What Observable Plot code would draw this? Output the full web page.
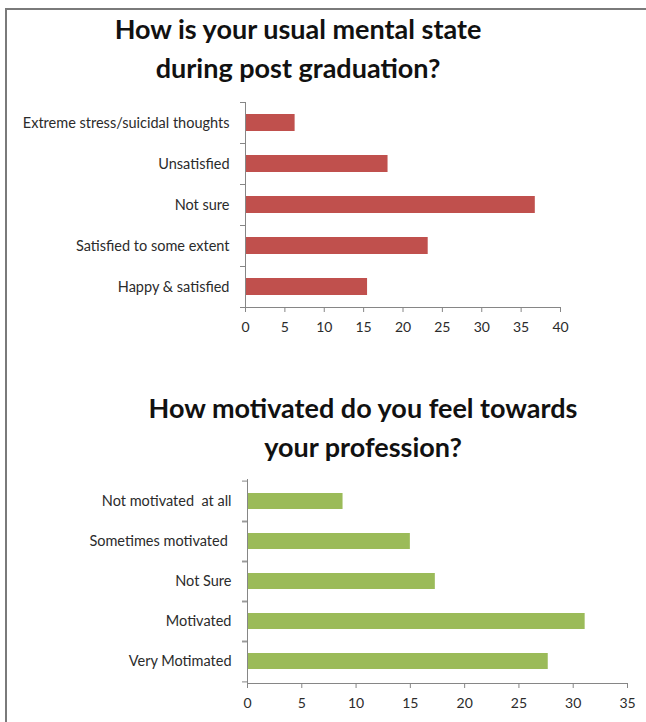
<!DOCTYPE html>
<html><head><meta charset="utf-8">
<script src="https://cdn.jsdelivr.net/npm/d3@7"></script>
<script src="https://cdn.jsdelivr.net/npm/@observablehq/plot@0.6"></script>
<style>
body{margin:0;background:#fff;}
#fig{position:relative;width:646px;height:722px;overflow:hidden;font-family:Lato,sans-serif;background:#fff;}
#border{position:absolute;left:5px;top:8px;right:-10px;bottom:-10px;border-top:2px solid #7a7a7a;border-left:2px solid #7a7a7a;}
.title{position:absolute;font-weight:bold;font-size:27px;color:#111;text-align:center;line-height:39px;white-space:nowrap;}
.chart{position:absolute;left:0;}
.chart svg text{white-space:pre;}
</style></head><body>
<div id="fig"><div id="border"></div>
<div class="title" id="t1" style="left:0;width:596px;top:9px;"></div>
<div class="title" id="t2" style="left:130px;width:466px;top:388px;"></div>
<div class="chart" id="c1" style="top:90px;"></div>
<div class="chart" id="c2" style="top:467px;"></div>
</div>
<script>
// ---- data ----
const title1 = ["How is your usual mental state", "during post graduation?"];
const mentalLabels = ["Extreme stress/suicidal thoughts", "Unsatisfied", "Not sure", "Satisfied to some extent", "Happy & satisfied"];
const mentalValues = [6.3, 18.1, 36.8, 23.2, 15.5];
const mentalTicks = [0, 5, 10, 15, 20, 25, 30, 35, 40];

const title2 = ["How motivated do you feel towards", "your profession?"];
const motivLabels = ["Not motivated  at all", "Sometimes motivated ", "Not Sure", "Motivated", "Very Motimated"];
const motivValues = [8.8, 15.0, 17.3, 31.1, 27.7];
const motivTicks = [0, 5, 10, 15, 20, 25, 30, 35];

document.getElementById("t1").innerHTML = title1.join("<br>");
document.getElementById("t2").innerHTML = title2.join("<br>");

const AXIS = "#868686", TEXT = "#2b2b2b";

function barChart({labels, values, ticks, color, marginLeft, marginRight, marginTop, marginBottom, height}) {
  const table = labels.map((label, i) => ({label, value: values[i]}));
  const width = 646;
  const xMax = ticks[ticks.length - 1];
  const k = (width - marginLeft - marginRight) / xMax;
  const step = (height - marginTop - marginBottom) / labels.length;
  const tl = 5 / k;
  return Plot.plot({
    width, height, marginLeft, marginRight, marginTop, marginBottom,
    style: {fontFamily: "Lato, sans-serif", fontSize: "14px", color: TEXT, background: "transparent"},
    x: {domain: [0, xMax], label: null},
    y: {domain: labels, paddingInner: 0.59, paddingOuter: 0.295, label: null},
    marks: [
      Plot.barX(table, {x: "value", y: "label", fill: color}),
      Plot.ruleX([0], {stroke: AXIS, strokeWidth: 1}),
      Plot.frame({anchor: "bottom", stroke: AXIS}),
      Plot.ruleY(table, {y: "label", x1: 0, x2: -tl, dy: -step / 2, stroke: AXIS}),
      Plot.ruleY(table, {y: "label", x1: 0, x2: -tl, dy: step / 2, stroke: AXIS}),
      Plot.axisY({tickSize: 0, tickPadding: 16, fontSize: 14.5, fill: TEXT, label: null}),
      Plot.axisX({ticks, tickSize: 5, tickPadding: 10, stroke: AXIS, fill: TEXT, fontSize: 14, tickFormat: d => String(d), label: null})
    ]
  });
}

document.getElementById("c1").append(barChart({
  labels: mentalLabels, values: mentalValues, ticks: mentalTicks, color: "#C0504D",
  marginLeft: 245, marginRight: 86, marginTop: 12, marginBottom: 30, height: 247
}));
document.getElementById("c2").append(barChart({
  labels: motivLabels, values: motivValues, ticks: motivTicks, color: "#9BBB59",
  marginLeft: 247, marginRight: 19, marginTop: 12, marginBottom: 30, height: 246
}));
</script>
</body></html>
